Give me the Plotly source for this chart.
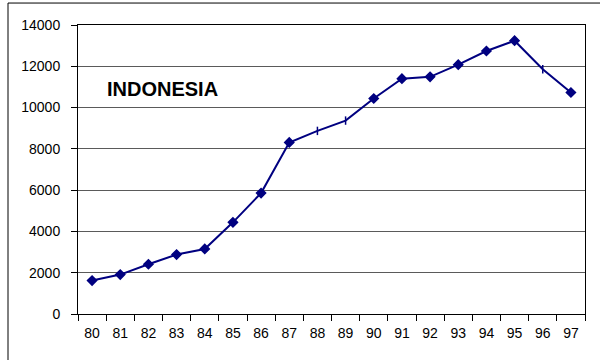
import plotly.graph_objects as go

years = ["80", "81", "82", "83", "84", "85", "86", "87", "88", "89",
         "90", "91", "92", "93", "94", "95", "96", "97"]
values = [1620, 1910, 2410, 2880, 3150, 4440, 5860, 8310, 8870, 9370,
          10440, 11400, 11490, 12080, 12740, 13240, 11860, 10730]
symbols = ["diamond"] * 8 + ["line-ns", "line-ns"] + ["diamond"] * 6 + ["line-ns", "diamond"]
sizes = [7 if s == "diamond" else 6 for s in symbols]
y_ticks = [0, 2000, 4000, 6000, 8000, 10000, 12000, 14000]
y_labels = [str(v) for v in y_ticks]
title_text = "INDONESIA"

navy = "#000080"
font_family = "Liberation Sans, Arial, sans-serif"

fig = go.Figure()
fig.add_trace(go.Scatter(
    x=years, y=values, mode="lines+markers",
    line=dict(color=navy, width=2),
    marker=dict(symbol=symbols, size=sizes, color=navy, opacity=1,
                line=dict(color=navy, width=1.5)),
    showlegend=False, hoverinfo="skip",
))

L, R, T, B = 78, 15, 25, 45.5
W, H = 600, 360
pw, ph = W - L - R, H - T - B

fx0 = (8 - L) / pw
fy1 = 1 + (T - 3) / ph

fig.update_layout(
    width=W, height=H,
    margin=dict(l=L, r=R, t=T, b=B, pad=0),
    paper_bgcolor="white", plot_bgcolor="white",
    font=dict(family=font_family, size=13, color="black"),
    xaxis=dict(
        type="category", range=[-0.5, len(years) - 0.5],
        tickson="boundaries", ticks="outside", ticklen=6,
        tickcolor="black", showline=True, linecolor="black", linewidth=1,
        mirror=True, showgrid=False, zeroline=False,
        tickfont=dict(size=14), ticklabelstandoff=6,
    ),
    yaxis=dict(
        range=[0, 14000], tickvals=y_ticks, ticktext=y_labels,
        ticks="outside", ticklen=6,
        tickcolor="black", showline=True, linecolor="black", linewidth=1,
        mirror=True, showgrid=True, gridcolor="#5a5a5a", gridwidth=1,
        zeroline=False, tickfont=dict(size=14), ticklabelstandoff=8,
    ),
    annotations=[dict(
        text="<b>" + title_text + "</b>", xref="paper", yref="paper",
        x=(162 - L) / pw, y=1 - (89 - T) / ph, xanchor="center", yanchor="middle",
        showarrow=False, font=dict(size=20, family=font_family, color="black"),
    )],
    shapes=[
        dict(type="line", xref="paper", yref="paper",
             x0=fx0, x1=fx0, y0=-0.3, y1=fy1,
             line=dict(color="black", width=1), layer="below"),
        dict(type="line", xref="paper", yref="paper",
             x0=fx0, x1=1.2, y0=fy1, y1=fy1,
             line=dict(color="black", width=1), layer="below"),
    ],
)

fig.write_html("out.html")
